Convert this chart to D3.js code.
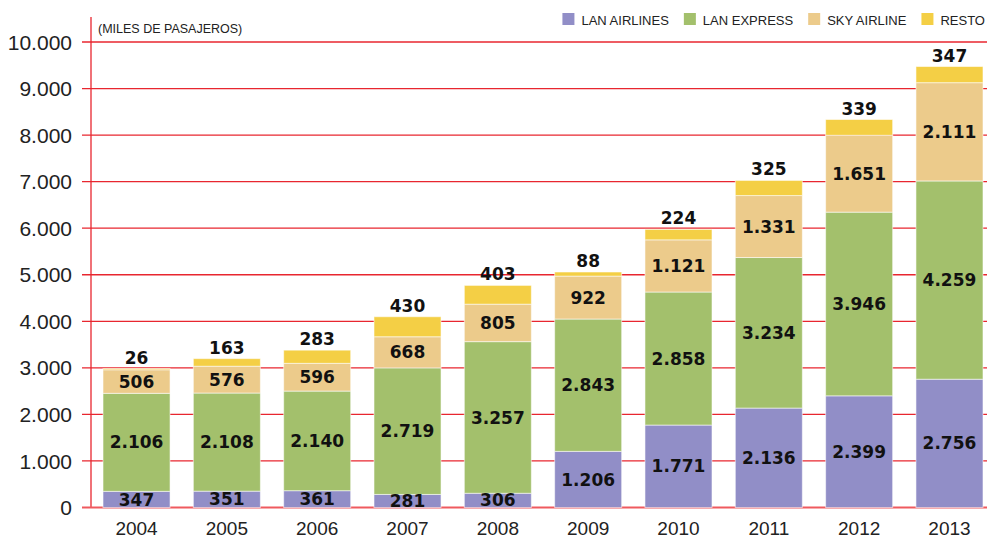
<!DOCTYPE html>
<html>
<head>
<meta charset="utf-8">
<script src="https://cdn.jsdelivr.net/npm/d3@7"></script>
<style>
    body { margin: 0; background: #fff; }
    svg { display: block; }
</style>
</head>
<body>
<svg id="chart"></svg>
<script>
"use strict";

const years = ["2004", "2005", "2006", "2007", "2008", "2009", "2010", "2011", "2012", "2013"];
const seriesNames = ["LAN AIRLINES", "LAN EXPRESS", "SKY AIRLINE", "RESTO"];
const lanAirlines = [347, 351, 361, 281, 306, 1206, 1771, 2136, 2399, 2756];
const lanExpress = [2106, 2108, 2140, 2719, 3257, 2843, 2858, 3234, 3946, 4259];
const skyAirline = [506, 576, 596, 668, 805, 922, 1121, 1331, 1651, 2111];
const resto = [26, 163, 283, 430, 403, 88, 224, 325, 339, 347];
const yTicks = [0, 1000, 2000, 3000, 4000, 5000, 6000, 7000, 8000, 9000, 10000];
const colors = ["#918ec7", "#a3c06c", "#eccb8b", "#f4cf45"];

const width = 987;
const height = 540;
const red = "#e8262f";

const fmt = d3.formatLocale({ decimal: ",", thousands: ".", grouping: [3], currency: ["", ""] }).format(",d");

// table built from the named arrays
const table = years.map((y, i) => ({
    year: y,
    "LAN AIRLINES": lanAirlines[i],
    "LAN EXPRESS": lanExpress[i],
    "SKY AIRLINE": skyAirline[i],
    "RESTO": resto[i]
}));

const svg = d3.select("#chart")
    .attr("width", width)
    .attr("height", height);

const x = d3.scaleBand()
    .domain(years)
    .range([91, 995])
    .paddingInner(0.258)
    .paddingOuter(0.133);

const y = d3.scaleLinear()
    .domain([0, 10000])
    .range([507.5, 42]);

// gridlines
svg.append("g")
    .selectAll("line")
    .data(yTicks.filter(d => d > 0))
    .enter()
    .append("line")
    .attr("x1", 82)
    .attr("x2", width)
    .attr("y1", d => y(d))
    .attr("y2", d => y(d))
    .attr("stroke", red)
    .attr("stroke-width", 1.3);

// y axis line and baseline
svg.append("line")
    .attr("x1", 91).attr("x2", 91)
    .attr("y1", 17).attr("y2", y(0))
    .attr("stroke", red)
    .attr("stroke-width", 1.3);

svg.append("line")
    .attr("x1", 82).attr("x2", width)
    .attr("y1", y(0)).attr("y2", y(0))
    .attr("stroke", "#ef5a5f")
    .attr("stroke-width", 2);

// y tick labels
svg.append("g")
    .selectAll("text")
    .data(yTicks)
    .enter()
    .append("text")
    .attr("x", 72)
    .attr("y", d => y(d))
    .attr("dy", "0.36em")
    .attr("text-anchor", "end")
    .style("font-family", "'Liberation Sans', Arial, sans-serif")
    .style("font-size", "21px")
    .style("fill", "#222")
    .text(d => fmt(d));

// stacked bars
const stack = d3.stack().keys(seriesNames);
const layers = stack(table);

const groups = svg.append("g")
    .selectAll("g")
    .data(layers)
    .enter()
    .append("g")
    .attr("fill", (d, i) => colors[i]);

groups.selectAll("rect")
    .data(d => d)
    .enter()
    .append("rect")
    .attr("x", d => x(d.data.year))
    .attr("width", x.bandwidth())
    .attr("y", d => y(d[1]))
    .attr("height", d => y(d[0]) - y(d[1]))
    .attr("stroke", "rgba(255,255,255,0.55)")
    .attr("stroke-width", 1);

// value labels
const labelStyle = sel => sel
    .attr("text-anchor", "middle")
    .style("font-family", "'DejaVu Sans', sans-serif")
    .style("font-weight", "bold")
    .style("font-size", "17px")
    .style("fill", "#111");

layers.forEach((layer, li) => {
    const last = li === layers.length - 1;
    svg.append("g")
        .selectAll("text")
        .data(layer)
        .enter()
        .append("text")
        .attr("x", d => x(d.data.year) + x.bandwidth() / 2)
        .attr("y", d => last ? y(d[1]) - 5 : (y(d[0]) + y(d[1])) / 2)
        .attr("dy", last ? 0 : "0.36em")
        .call(labelStyle)
        .text(d => fmt(d[1] - d[0]));
});

// x labels
svg.append("g")
    .selectAll("text")
    .data(years)
    .enter()
    .append("text")
    .attr("x", d => x(d) + x.bandwidth() / 2)
    .attr("y", 535)
    .attr("text-anchor", "middle")
    .style("font-family", "'Liberation Sans', Arial, sans-serif")
    .style("font-size", "19px")
    .style("fill", "#222")
    .text(d => d);

// unit note
svg.append("text")
    .attr("x", 98)
    .attr("y", 33)
    .style("font-family", "'Liberation Sans', Arial, sans-serif")
    .style("font-size", "12.5px")
    .style("fill", "#222")
    .text("(MILES DE PASAJEROS)");

// legend, laid out left to right then pushed against the right edge
const legend = svg.append("g");
let lx = 0;
seriesNames.forEach((name, i) => {
    legend.append("rect")
        .attr("x", lx)
        .attr("y", 13)
        .attr("width", 12)
        .attr("height", 12)
        .attr("fill", colors[i]);
    const t = legend.append("text")
        .attr("x", lx + 19)
        .attr("y", 24.5)
        .style("font-family", "'Liberation Sans', Arial, sans-serif")
        .style("font-size", "13px")
        .style("fill", "#222")
        .text(name);
    lx += 19 + t.node().getComputedTextLength();
    if (i < seriesNames.length - 1) lx += 15;
});
legend.attr("transform", `translate(${width - 2 - lx},0)`);
</script>
</body>
</html>
